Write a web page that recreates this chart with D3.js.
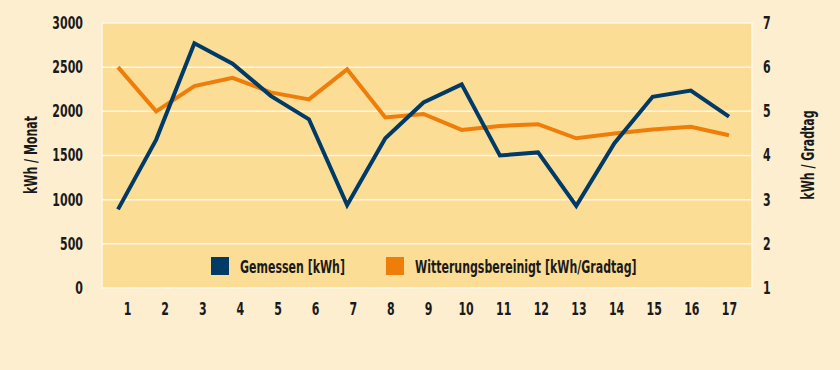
<!DOCTYPE html>
<html>
<head>
<meta charset="utf-8">
<script src="https://cdn.jsdelivr.net/npm/d3@7/dist/d3.min.js"></script>
<style>
  body { margin: 0; background: #fdeed0; }
  svg text { font-family: "DejaVu Sans Condensed", "DejaVu Sans", sans-serif; font-weight: bold; fill: #1a1a1a; }
</style>
</head>
<body>
<svg id="chart"></svg>
<script>
// months 1..17
var months = [1, 2, 3, 4, 5, 6, 7, 8, 9, 10, 11, 12, 13, 14, 15, 16, 17];
// Gemessen [kWh] (left axis)
var gemessen = [890, 1680, 2770, 2540, 2175, 1910, 940, 1695, 2100, 2305, 1500, 1535, 930, 1640, 2165, 2235, 1940];
// Witterungsbereinigt [kWh/Gradtag] (right axis)
var witterung = [6.0, 5.0, 5.57, 5.76, 5.43, 5.27, 5.95, 4.86, 4.94, 4.58, 4.67, 4.71, 4.39, 4.5, 4.59, 4.65, 4.46];
var leftTicks = [0, 500, 1000, 1500, 2000, 2500, 3000];
var rightTicks = [1, 2, 3, 4, 5, 6, 7];

var width = 840, height = 370;
var plot = {left: 102, right: 752, top: 23, bottom: 288};
var squeeze = "scale(0.72,1)";   // fake a condensed face

var blue = "#003a66", orange = "#ee7d0a";

var svg = d3.select("#chart").attr("width", width).attr("height", height);

svg.append("rect").attr("width", width).attr("height", height).attr("fill", "#fdeed0");

var yLeft = d3.scaleLinear().domain([0, 3000]).range([plot.bottom, plot.top]);
var yRight = d3.scaleLinear().domain([1, 7]).range([plot.bottom, plot.top]);

// points and labels in the original are slightly offset from each other
var x = d3.scalePoint().domain(months).range([118, 729]);
var xLabel = d3.scalePoint().domain(months).range([127, 729]);

svg.append("rect")
  .attr("x", plot.left).attr("y", plot.top)
  .attr("width", plot.right - plot.left).attr("height", plot.bottom - plot.top)
  .attr("fill", "#fbdd95")
  .attr("stroke", "#fff8e8").attr("stroke-width", 1.5);

// gridlines
svg.append("g").selectAll("line")
  .data(leftTicks.slice(1, -1))
  .enter().append("line")
    .attr("x1", plot.left).attr("x2", plot.right)
    .attr("y1", function(d){ return yLeft(d); })
    .attr("y2", function(d){ return yLeft(d); })
    .attr("stroke", "#fff8e8").attr("stroke-width", 1.5);

// left axis
var leftAxis = svg.append("g")
  .attr("transform", "translate(83,0)")
  .call(d3.axisLeft(yLeft).tickValues(leftTicks).tickFormat(d3.format("d")).tickSize(0).tickPadding(0));
leftAxis.select(".domain").remove();

// right axis
var rightAxis = svg.append("g")
  .attr("transform", "translate(763,0)")
  .call(d3.axisRight(yRight).tickValues(rightTicks).tickFormat(d3.format("d")).tickSize(0).tickPadding(0));
rightAxis.select(".domain").remove();

// x axis
var xAxis = svg.append("g")
  .attr("transform", "translate(0,303)")
  .call(d3.axisBottom(xLabel).tickSize(0).tickPadding(0));
xAxis.select(".domain").remove();

svg.selectAll(".tick text")
  .attr("font-size", 17).attr("fill", "#1a1a1a")
  .attr("transform", squeeze)
  .style("font-family", "'DejaVu Sans Condensed', 'DejaVu Sans', sans-serif")
  .style("font-weight", "bold");

// axis titles
svg.append("text")
  .attr("transform", "translate(37,155) rotate(-90) " + squeeze)
  .attr("text-anchor", "middle")
  .attr("font-size", 17)
  .text("kWh / Monat");

svg.append("text")
  .attr("transform", "translate(814,155) rotate(-90) " + squeeze)
  .attr("text-anchor", "middle")
  .attr("font-size", 17)
  .text("kWh / Gradtag");

// lines
var lineLeft = d3.line()
  .x(function(d, i){ return x(months[i]); })
  .y(function(d){ return yLeft(d); });

var lineRight = d3.line()
  .x(function(d, i){ return x(months[i]); })
  .y(function(d){ return yRight(d); });

svg.append("path")
  .datum(witterung)
  .attr("d", lineRight)
  .attr("fill", "none")
  .attr("stroke", orange)
  .attr("stroke-width", 4)
  .attr("stroke-linejoin", "miter");

svg.append("path")
  .datum(gemessen)
  .attr("d", lineLeft)
  .attr("fill", "none")
  .attr("stroke", blue)
  .attr("stroke-width", 4)
  .attr("stroke-linejoin", "miter");

// legend
var legend = [
  {label: "Gemessen [kWh]", color: blue, x: 211},
  {label: "Witterungsbereinigt [kWh/Gradtag]", color: orange, x: 386}
];

var lg = svg.append("g").selectAll("g")
  .data(legend)
  .enter().append("g")
    .attr("transform", function(d){ return "translate(" + d.x + ",257)"; });

lg.append("rect")
  .attr("width", 18).attr("height", 18)
  .attr("fill", function(d){ return d.color; });

lg.append("text")
  .attr("transform", "translate(29,16) " + squeeze)
  .attr("font-size", 17)
  .text(function(d){ return d.label; });
</script>
</body>
</html>
